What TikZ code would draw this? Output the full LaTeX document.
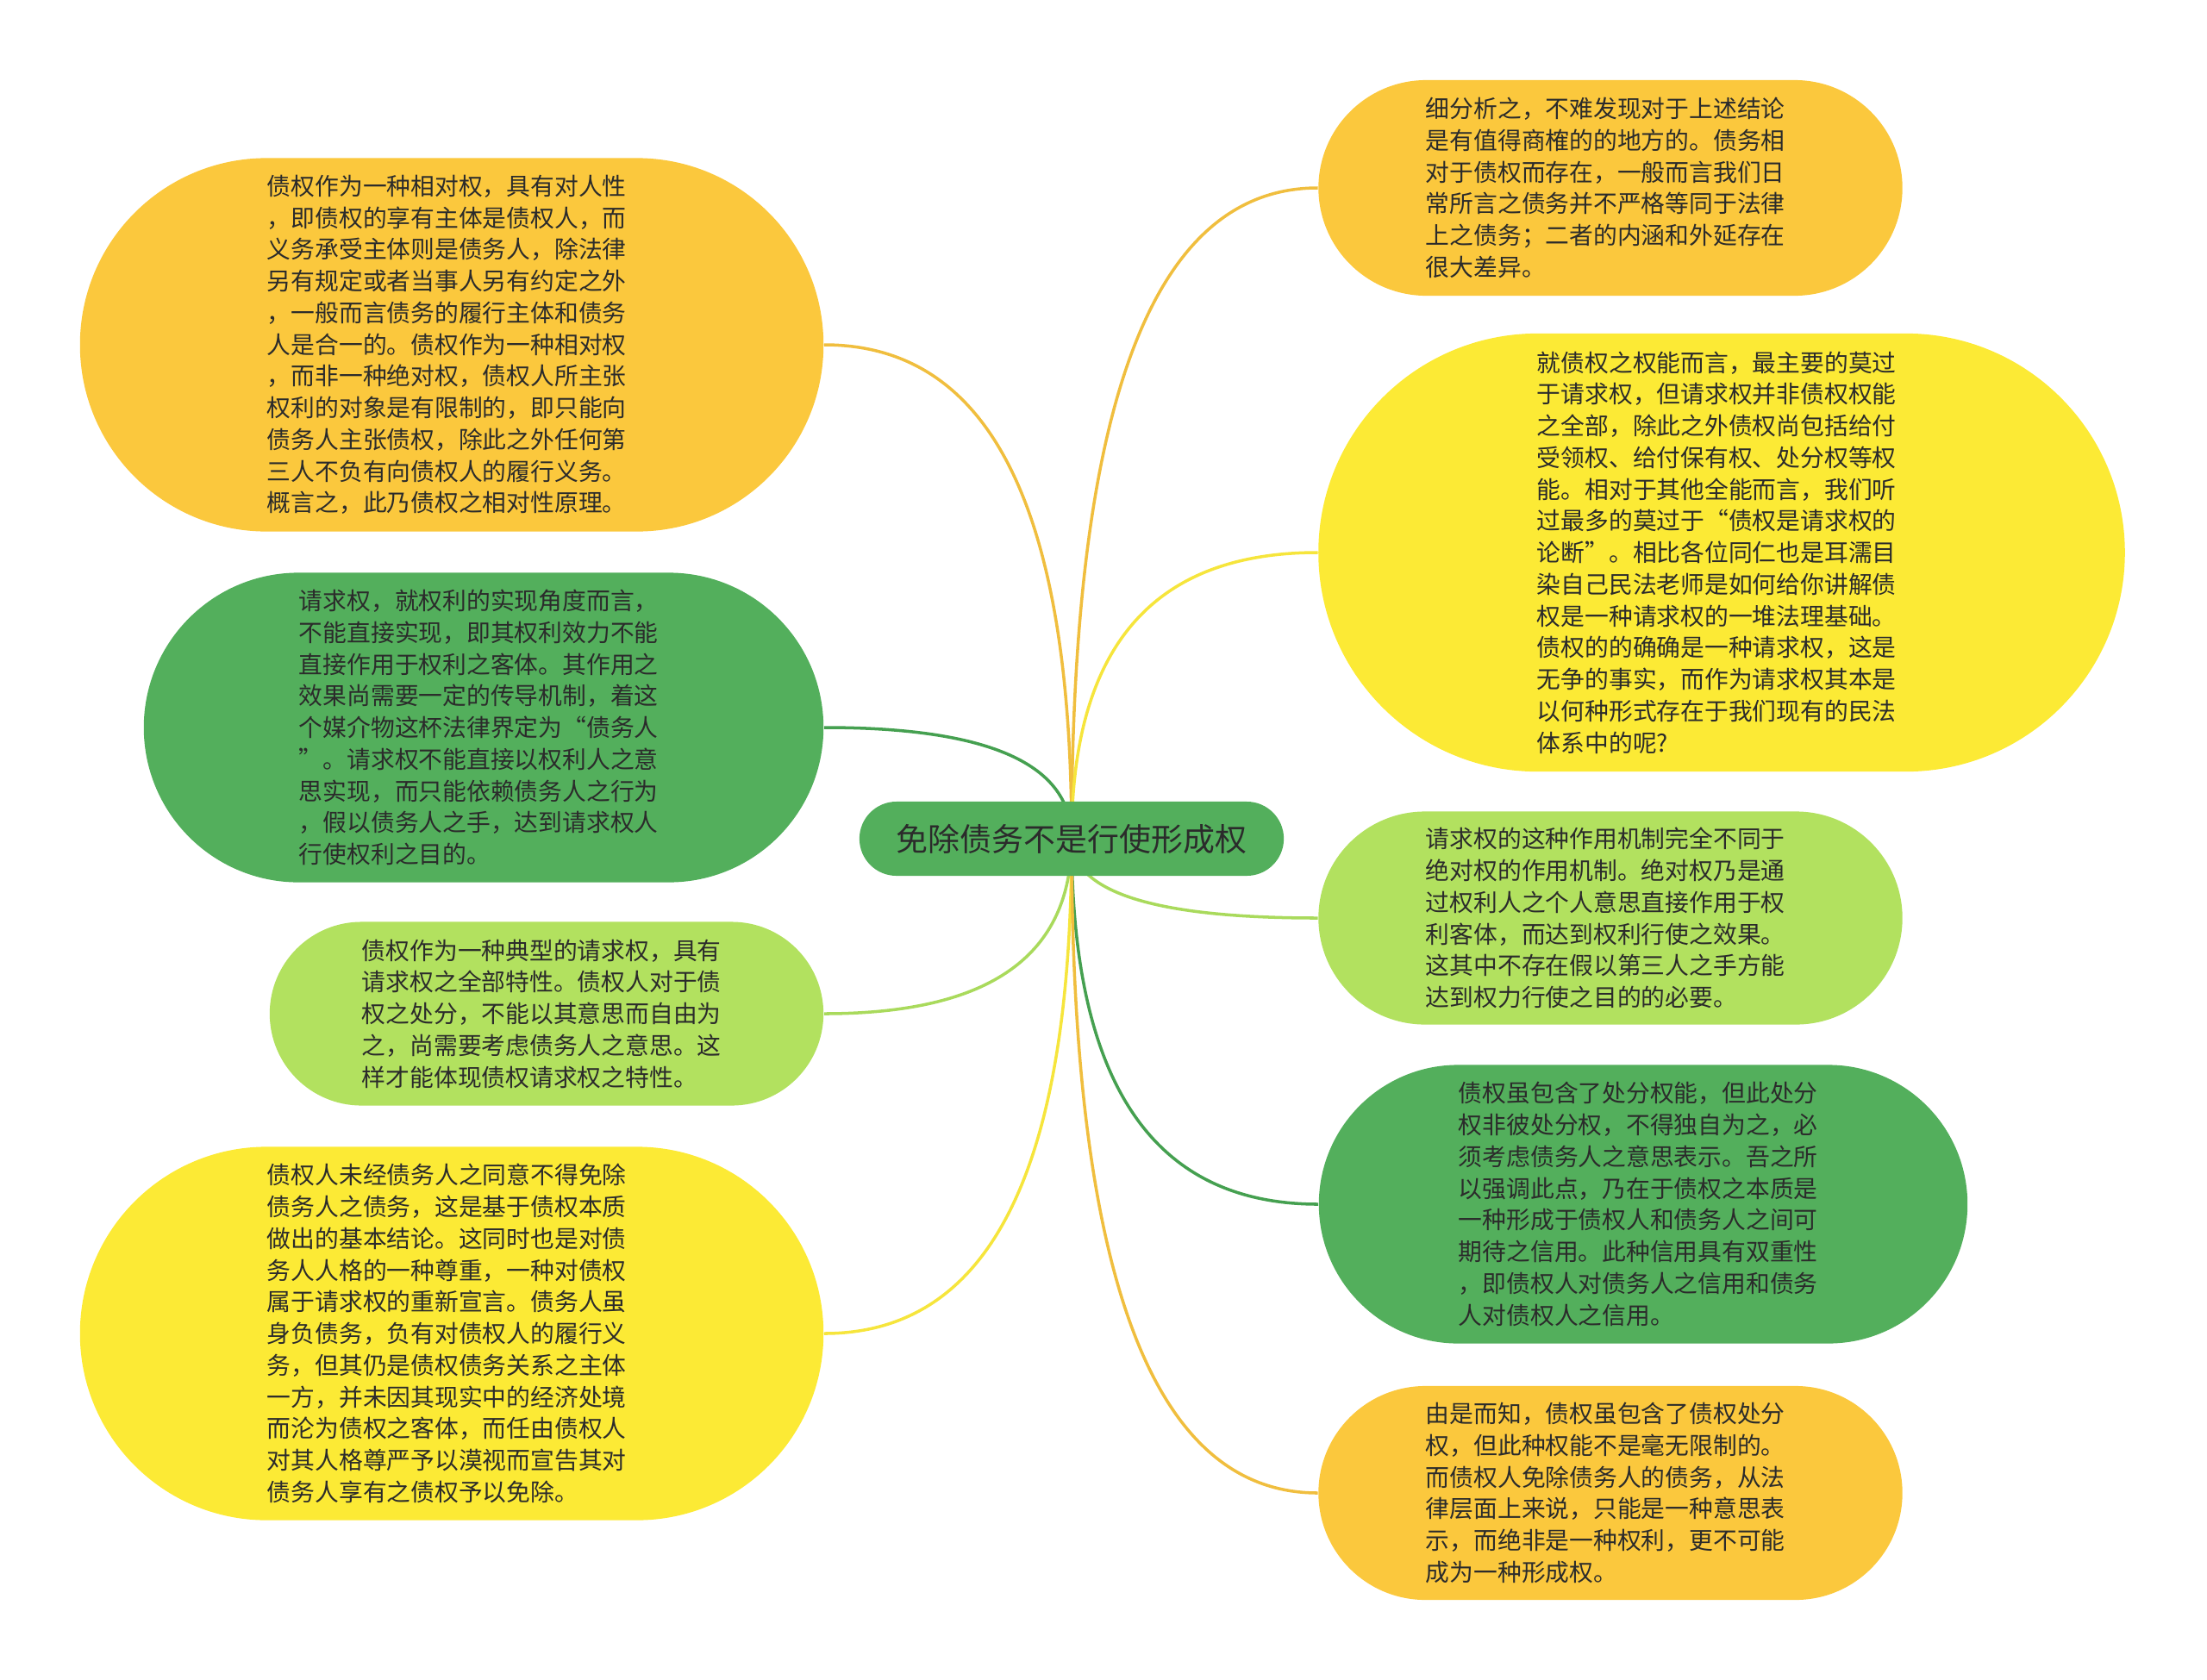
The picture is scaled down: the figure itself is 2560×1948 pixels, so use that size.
\documentclass[tikz,border=0pt]{standalone}
\usepackage{fontspec}
\newfontfamily\cjk{Noto Sans CJK SC}
\usetikzlibrary{shapes.misc,calc,backgrounds}
\definecolor{ink}{HTML}{2B2B2B}
\definecolor{amber}{HTML}{FBC83D}
\definecolor{lemon}{HTML}{FCEA35}
\definecolor{leafgreen}{HTML}{53AF5C}
\definecolor{lime}{HTML}{B2E15F}
\definecolor{amberline}{HTML}{F0BE3E}
\definecolor{lemonline}{HTML}{F6E53C}
\definecolor{greenline}{HTML}{45A050}
\definecolor{limeline}{HTML}{A9DA5C}
\begin{document}
\begin{tikzpicture}[
 x=.01cm,y=-.01cm,
 bubble/.style={rounded rectangle,inner sep=0pt,align=left,text width=4.28cm,text=ink,
  font=\cjk\fontsize{7.9pt}{10.45pt}\selectfont},
 topic/.style={rounded rectangle,inner sep=0pt,fill=leafgreen,text=ink,
  minimum width=4.92cm,minimum height=.86cm,font=\cjk\fontsize{10.5pt}{12pt}\selectfont},
 branch/.style={line width=1pt,to path={.. controls ($(\tikztostart)!.67!(\tikztostart|-\tikztotarget)$)
  and ($(\tikztotarget)!.67!(\tikztostart|-\tikztotarget)$) .. (\tikztotarget)}}]
 \useasboundingbox (0,0) rectangle (2560,1948);
 % central topic
 \node[topic] (root) at (1243,973) {免除债务不是行使形成权};
 \coordinate (hub) at (1243,973);
 % left side
 \node[bubble,fill=amber,minimum width=8.62cm,minimum height=4.33cm] (l1) at (524,400) {%
  债权作为一种相对权，具有对人性\\，即债权的享有主体是债权人，而\\义务承受主体则是债务人，除法律\\%
  另有规定或者当事人另有约定之外\\，一般而言债务的履行主体和债务\\人是合一的。债权作为一种相对权\\%
  ，而非一种绝对权，债权人所主张\\权利的对象是有限制的，即只能向\\债务人主张债权，除此之外任何第\\%
  三人不负有向债权人的履行义务。\\概言之，此乃债权之相对性原理。};
 \node[bubble,fill=leafgreen,minimum width=7.88cm,minimum height=3.59cm] (l2) at (561,844) {%
  请求权，就权利的实现角度而言，\\不能直接实现，即其权利效力不能\\直接作用于权利之客体。其作用之\\%
  效果尚需要一定的传导机制，着这\\个媒介物这杯法律界定为“债务人\\”。请求权不能直接以权利人之意\\%
  思实现，而只能依赖债务人之行为\\，假以债务人之手，达到请求权人\\行使权利之目的。};
 \node[bubble,fill=lime,minimum width=6.42cm,minimum height=2.13cm] (l3) at (634,1176) {%
  债权作为一种典型的请求权，具有\\请求权之全部特性。债权人对于债\\权之处分，不能以其意思而自由为\\%
  之，尚需要考虑债务人之意思。这\\样才能体现债权请求权之特性。};
 \node[bubble,fill=lemon,minimum width=8.62cm,minimum height=4.33cm] (l4) at (524,1547) {%
  债权人未经债务人之同意不得免除\\债务人之债务，这是基于债权本质\\做出的基本结论。这同时也是对债\\%
  务人人格的一种尊重，一种对债权\\属于请求权的重新宣言。债务人虽\\身负债务，负有对债权人的履行义\\%
  务，但其仍是债权债务关系之主体\\一方，并未因其现实中的经济处境\\而沦为债权之客体，而任由债权人\\%
  对其人格尊严予以漠视而宣告其对\\债务人享有之债权予以免除。};
 % right side
 \node[bubble,fill=amber,minimum width=6.77cm,minimum height=2.50cm] (r1) at (1868,218) {%
  细分析之，不难发现对于上述结论\\是有值得商榷的的地方的。债务相\\对于债权而存在，一般而言我们日\\%
  常所言之债务并不严格等同于法律\\上之债务；二者的内涵和外延存在\\很大差异。};
 \node[bubble,fill=lemon,minimum width=9.35cm,minimum height=5.08cm] (r2) at (1997,641) {%
  就债权之权能而言，最主要的莫过\\于请求权，但请求权并非债权权能\\之全部，除此之外债权尚包括给付\\%
  受领权、给付保有权、处分权等权\\能。相对于其他全能而言，我们听\\过最多的莫过于“债权是请求权的\\%
  论断”。相比各位同仁也是耳濡目\\染自己民法老师是如何给你讲解债\\权是一种请求权的一堆法理基础。\\%
  债权的的确确是一种请求权，这是\\无争的事实，而作为请求权其本是\\以何种形式存在于我们现有的民法\\%
  体系中的呢?};
 \node[bubble,fill=lime,minimum width=6.77cm,minimum height=2.47cm] (r3) at (1868,1065) {%
  请求权的这种作用机制完全不同于\\绝对权的作用机制。绝对权乃是通\\过权利人之个人意思直接作用于权\\%
  利客体，而达到权利行使之效果。\\这其中不存在假以第三人之手方能\\达到权力行使之目的的必要。};
 \node[bubble,fill=leafgreen,minimum width=7.52cm,minimum height=3.23cm] (r4) at (1906,1397) {%
  债权虽包含了处分权能，但此处分\\权非彼处分权，不得独自为之，必\\须考虑债务人之意思表示。吾之所\\%
  以强调此点，乃在于债权之本质是\\一种形成于债权人和债务人之间可\\期待之信用。此种信用具有双重性\\%
  ，即债权人对债务人之信用和债务\\人对债权人之信用。};
 \node[bubble,fill=amber,minimum width=6.77cm,minimum height=2.48cm] (r5) at (1868,1732) {%
  由是而知，债权虽包含了债权处分\\权，但此种权能不是毫无限制的。\\而债权人免除债务人的债务，从法\\%
  律层面上来说，只能是一种意思表\\示，而绝非是一种权利，更不可能\\成为一种形成权。};
 % connectors behind the bubbles
 \begin{scope}[on background layer]
  \draw[branch,amberline] (hub) to (l1.east);
  \draw[branch,greenline] (hub) to (l2.east);
  \draw[branch,limeline] (hub) to (l3.east);
  \draw[branch,lemonline] (hub) to (l4.east);
  \draw[branch,amberline] (hub) to (r1.west);
  \draw[branch,lemonline] (hub) to (r2.west);
  \draw[branch,limeline] (hub) to (r3.west);
  \draw[branch,greenline] (hub) to (r4.west);
  \draw[branch,amberline] (hub) to (r5.west);
 \end{scope}
\end{tikzpicture}
\end{document}
